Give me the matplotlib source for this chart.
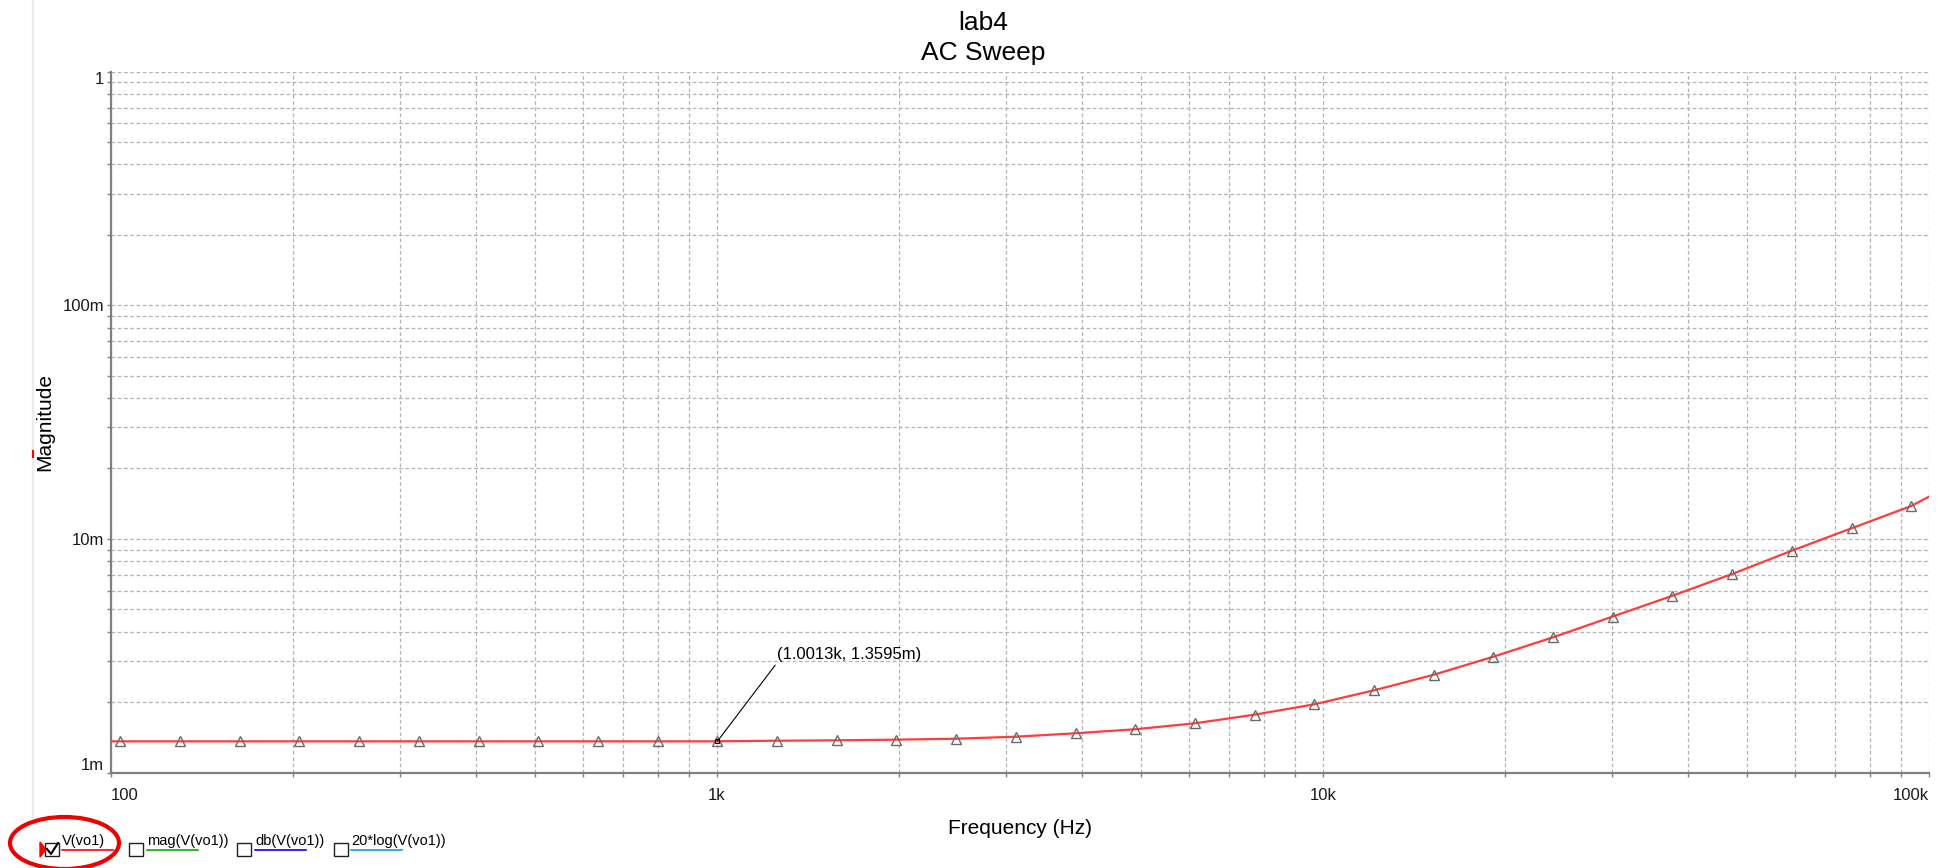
import matplotlib.pyplot as plt
from matplotlib.patches import Rectangle, Ellipse, Polygon
from matplotlib.lines import Line2D
from matplotlib.ticker import NullFormatter

plt.rcParams['font.family'] = ['Liberation Sans', 'DejaVu Sans']

W, H = 1946, 868

# marker points of the V(vo1) trace (Hz, V)
marker_freq = [103.6, 130.0, 163.1, 204.6, 256.7, 322.1, 404.1, 507.0, 636.1, 798.1,
               1001.3, 1256, 1576, 1977, 2481, 3112, 3905, 4899, 6146, 7711,
               9674, 12137, 15227, 19104, 23968, 30070, 37726, 47331, 59381, 74499,
               93466]
marker_mag = [1.3595e-3, 1.3595e-3, 1.3595e-3, 1.3595e-3, 1.3595e-3, 1.3595e-3, 1.3595e-3,
              1.3595e-3, 1.3595e-3, 1.3595e-3,
              1.3595e-3, 1.368e-3, 1.373e-3, 1.382e-3, 1.395e-3, 1.423e-3, 1.472e-3,
              1.531e-3, 1.624e-3, 1.768e-3,
              1.958e-3, 2.247e-3, 2.619e-3, 3.130e-3, 3.790e-3, 4.651e-3, 5.708e-3,
              7.071e-3, 8.897e-3, 11.09e-3,
              13.82e-3]
# trace runs over the whole sweep 100 Hz .. 100 kHz
line_freq = [100] + marker_freq + [100000]
line_mag = [1.3595e-3] + marker_mag + [15.15e-3]

x_ticks = [100, 1e3, 1e4, 1e5]
x_labels = ['100', '1k', '10k', '100k']
y_ticks = [1e-3, 1e-2, 1e-1, 1]
y_labels = ['1m', '10m', '100m', '1']

cursor_f, cursor_v = 1001.3, 1.3595e-3
cursor_text = '(1.0013k, 1.3595m)'

legend_names = ['V(vo1)', 'mag(V(vo1))', 'db(V(vo1))', '20*log(V(vo1))']
legend_colors = ['#ff0000', '#00b000', '#0000ff', '#00a8e0']
legend_checked = [True, False, False, False]


def px(x, y):
    return x / W, 1 - y / H


fig = plt.figure(figsize=(W / 100, H / 100), dpi=100)
ax = fig.add_axes([111 / W, 95.5 / H, 1818 / W, 701 / H])

ax.plot(line_freq, line_mag, color='#ff3b3b', lw=1.6, zorder=3)
ax.plot(marker_freq, marker_mag, ls='none', marker='^', ms=6.5, mfc='none',
        mec='#6a6a6a', mew=1.0, zorder=4)

ax.set_xscale('log')
ax.set_yscale('log')
ax.set_xlim(100, 1e5)
ax.set_ylim(1e-3, 1)
ax.set_xticks(x_ticks, labels=x_labels)
ax.set_yticks(y_ticks, labels=y_labels)
ax.xaxis.set_minor_formatter(NullFormatter())
ax.yaxis.set_minor_formatter(NullFormatter())

xl = ax.get_xticklabels()
xl[0].set_ha('left')
xl[-1].set_ha('right')
yl = ax.get_yticklabels()
yl[0].set_va('bottom')
yl[-1].set_va('top')

ax.tick_params(which='both', direction='out', color='#808080', labelsize=12,
               length=3, width=1, labelcolor='#1a1a1a')
ax.tick_params(axis='x', pad=8)
ax.tick_params(axis='y', pad=2)

ax.grid(True, which='both', ls=(0, (3, 2)), color='#b4b4b4', lw=0.9)
ax.set_axisbelow(True)
for s in ['top', 'right']:
    ax.spines[s].set_visible(False)
for s in ['left', 'bottom']:
    ax.spines[s].set_color('#808080')
    ax.spines[s].set_linewidth(1.6)

ax.set_xlabel('Frequency (Hz)', fontsize=15, labelpad=12)
ax.set_ylabel('Magnitude', fontsize=15, labelpad=6)

# cursor readout
ax.plot([cursor_f], [cursor_v], ls='none', marker='s', ms=3, mfc='none',
        mec='black', mew=0.8, zorder=5)
ax.annotate(cursor_text, xy=(cursor_f, cursor_v), xytext=(60, 79),
            textcoords='offset pixels', ha='left', va='bottom', fontsize=12,
            arrowprops=dict(arrowstyle='-', color='black', lw=0.8,
                            shrinkA=0, shrinkB=0, relpos=(0, 0)))

# title
fig.text(*px(983, 23), 'lab4', ha='center', va='center', fontsize=19)
fig.text(*px(983, 53), 'AC Sweep', ha='center', va='center', fontsize=19)

# window frame line and axis marker
fig.add_artist(Line2D([33 / W, 33 / W], [1 - 818 / H, 1], color='#ebebeb', lw=1.6))
fig.add_artist(Line2D([33 / W, 33 / W], [1 - 457 / H, 1 - 451 / H], color='red', lw=1.5))

# trace legend with check boxes
box_x = [45, 129, 237, 334]
text_x = [62, 147, 255, 351]
for bx, tx, name, col, chk in zip(box_x, text_x, legend_names, legend_colors, legend_checked):
    x0, y0 = px(bx, 856)
    fig.add_artist(Rectangle((x0, y0), 14 / W, 13 / H, transform=fig.transFigure,
                             fill=False, ec='#202020', lw=1.0))
    if chk:
        cx = [bx + 2, bx + 6, bx + 13]
        cy = [849, 854, 843]
        fig.add_artist(Line2D([c / W for c in cx], [1 - c / H for c in cy],
                              color='black', lw=1.5))
    fig.text(*px(tx, 844.5), name, ha='left', va='baseline', fontsize=10.5)
    fig.add_artist(Line2D([tx / W, (tx + 51) / W], [1 - 850 / H, 1 - 850 / H],
                          color=col, lw=1.2))

fig.add_artist(Polygon([px(40, 842), px(40, 857), px(46, 849.5)], closed=True,
                       transform=fig.transFigure, color='red'))
ex, ey = px(64.5, 843)
fig.add_artist(Ellipse((ex, ey), 109 / W, 52 / H, transform=fig.transFigure,
                       fill=False, ec='#ee0000', lw=3))

fig.savefig('out.png', dpi=100)
